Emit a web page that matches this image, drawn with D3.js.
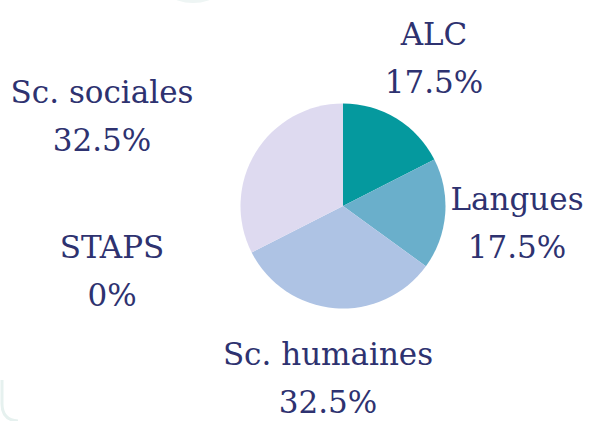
<!DOCTYPE html>
<html>
<head>
<meta charset="utf-8">
<script src="https://cdn.jsdelivr.net/npm/d3@7"></script>
<style>
  body { margin: 0; background: #fff; }
  svg { display: block; }
</style>
</head>
<body>
<div id="chart"></div>
<script>
// data
var categories = ["ALC", "Langues", "Sc. humaines", "STAPS", "Sc. sociales"];
var values = [17.5, 17.5, 32.5, 0, 32.5];
var colors = ["#05999e", "#6aafcb", "#aec3e4", "#c9c3e6", "#dedaf0"];

var width = 590, height = 421;
var cx = 343, cy = 206, radius = 102.5;

var svg = d3.select("#chart")
  .append("svg")
    .attr("width", width)
    .attr("height", height);

// faint background shapes
svg.append("ellipse")
    .attr("cx", 193).attr("cy", -30)
    .attr("rx", 40).attr("ry", 33)
    .attr("fill", "#eef5f4");
svg.append("path")
    .attr("d", "M2,380 L2,404 Q2,420 18,421")
    .attr("fill", "none")
    .attr("stroke", "#e6f1ef")
    .attr("stroke-width", 3);

var data = categories.map(function(c, i) {
  return { name: c, value: values[i], color: colors[i] };
});

var pie = d3.pie()
    .sort(null)
    .value(function(d) { return d.value; });

var arc = d3.arc()
    .innerRadius(0)
    .outerRadius(radius);

var g = svg.append("g")
    .attr("transform", "translate(" + cx + "," + cy + ")");

g.selectAll("path")
  .data(pie(data))
  .enter()
  .append("path")
    .attr("d", arc)
    .attr("fill", function(d) { return d.data.color; });

// labels placed around the pie
var labelPos = {
  "ALC": [434, 45],
  "Langues": [517, 210],
  "Sc. humaines": [328, 365],
  "STAPS": [112, 258],
  "Sc. sociales": [102, 103]
};

var labels = svg.append("g")
    .attr("font-family", "'DejaVu Serif', serif")
    .attr("font-size", 31)
    .attr("fill", "#2e3270")
    .attr("text-anchor", "middle");

data.forEach(function(d) {
  var p = labelPos[d.name];
  var t = labels.append("text")
      .attr("x", p[0]).attr("y", p[1]);
  t.append("tspan").attr("x", p[0]).text(d.name);
  t.append("tspan").attr("x", p[0]).attr("dy", 48).text(d.value + "%");
});
</script>
</body>
</html>
